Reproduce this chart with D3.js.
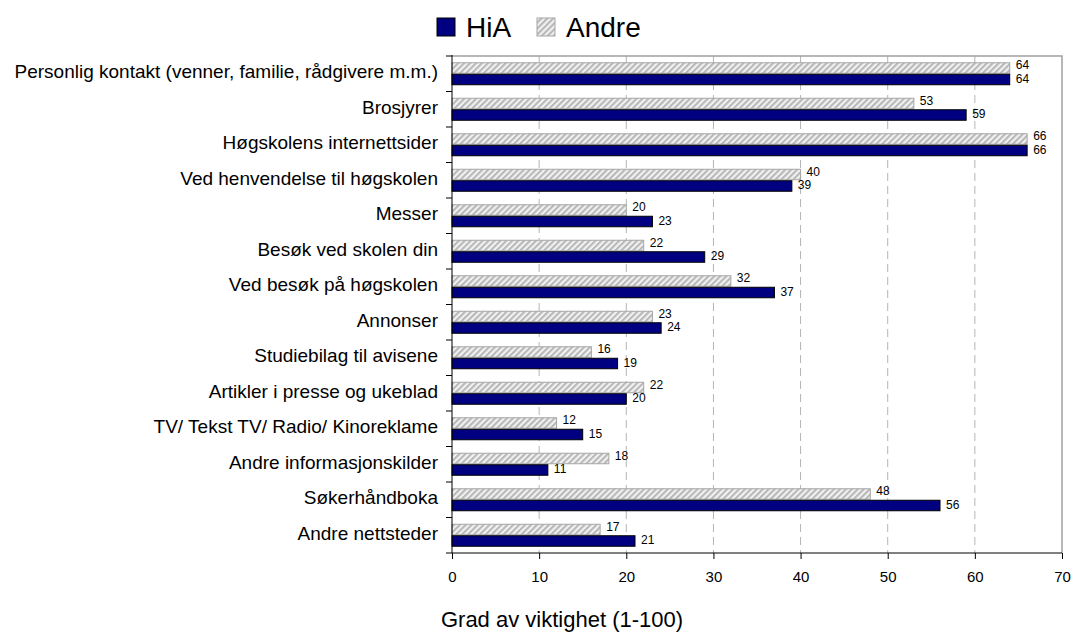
<!DOCTYPE html>
<html>
<head>
<meta charset="utf-8">
<script src="https://cdn.jsdelivr.net/npm/d3@7"></script>
<style>
  body { margin: 0; background: #fff; }
  text { font-family: "Liberation Sans", Arial, sans-serif; fill: #000; }
</style>
</head>
<body>
<div id="chart"></div>
<script>
// data
const categories = [
    'Personlig kontakt (venner, familie, rådgivere m.m.)',
    'Brosjyrer',
    'Høgskolens internettsider',
    'Ved henvendelse til høgskolen',
    'Messer',
    'Besøk ved skolen din',
    'Ved besøk på høgskolen',
    'Annonser',
    'Studiebilag til avisene',
    'Artikler i presse og ukeblad',
    'TV/ Tekst TV/ Radio/ Kinoreklame',
    'Andre informasjonskilder',
    'Søkerhåndboka',
    'Andre nettsteder'
];
const hiaValues   = [64, 59, 66, 39, 23, 29, 37, 24, 19, 20, 15, 11, 56, 21];
const andreValues = [64, 53, 66, 40, 20, 22, 32, 23, 16, 22, 12, 18, 48, 17];
const seriesNames = ['HiA', 'Andre'];
const xTicks = [0, 10, 20, 30, 40, 50, 60, 70];
const xTitle = 'Grad av viktighet (1-100)';

// layout
const W = 1076, H = 633;
const margin = {top: 56, right: 14, bottom: 80, left: 452};
const width = W - margin.left - margin.right;
const height = H - margin.top - margin.bottom;

const svgRoot = d3.select('#chart').append('svg')
    .attr('width', W)
    .attr('height', H);

// hatch pattern for "Andre"
const defs = svgRoot.append('defs');
const pat = defs.append('pattern')
    .attr('id', 'hatch')
    .attr('patternUnits', 'userSpaceOnUse')
    .attr('width', 4.2)
    .attr('height', 4.2)
    .attr('patternTransform', 'rotate(45)');
pat.append('rect').attr('width', 4.2).attr('height', 4.2).attr('fill', '#f2f2f2');
pat.append('rect').attr('width', 2.1).attr('height', 4.2).attr('fill', '#b8b8b8');

const svg = svgRoot.append('g')
    .attr('transform', 'translate(' + margin.left + ',' + margin.top + ')');

// scales
const xScale = d3.scaleLinear().domain([0, 70]).range([0, width]);
const yScale = d3.scaleBand().domain(categories).range([0, height]).padding(0);
const barH = 10.5;

// gridlines
svg.append('g')
    .selectAll('line')
    .data(xTicks.filter(d => d > 0 && d < 70))
    .join('line')
    .attr('x1', d => xScale(d)).attr('x2', d => xScale(d))
    .attr('y1', 0).attr('y2', height)
    .attr('stroke', '#b4b4b4')
    .attr('stroke-dasharray', '8,5');

// frame (top and right)
svg.append('path')
    .attr('d', 'M0,0H' + width + 'V' + height)
    .attr('fill', 'none')
    .attr('stroke', '#a0a0a0')
    .attr('stroke-width', 1.5);

// bars
const rows = categories.map((c, i) => ({cat: c, hia: hiaValues[i], andre: andreValues[i]}));
const center = d => yScale(d.cat) + yScale.bandwidth() / 2;

svg.append('g').selectAll('rect')
    .data(rows)
    .join('rect')
    .attr('x', 0)
    .attr('y', d => center(d) - barH - 0.5)
    .attr('width', d => xScale(d.andre))
    .attr('height', barH)
    .attr('fill', 'url(#hatch)')
    .attr('stroke', '#a6a6a6')
    .attr('stroke-width', 1);

svg.append('g').selectAll('rect')
    .data(rows)
    .join('rect')
    .attr('x', 0)
    .attr('y', d => center(d) + 0.5)
    .attr('width', d => xScale(d.hia))
    .attr('height', barH)
    .attr('fill', '#000080')
    .attr('stroke', '#000')
    .attr('stroke-width', 1);

// value labels
svg.append('g').selectAll('text')
    .data(rows)
    .join('text')
    .attr('x', d => xScale(d.andre) + 6)
    .attr('y', d => center(d) - barH / 2 - 3.5)
    .attr('dy', '0.35em')
    .attr('font-size', 12)
    .text(d => d.andre);

svg.append('g').selectAll('text')
    .data(rows)
    .join('text')
    .attr('x', d => xScale(d.hia) + 6)
    .attr('y', d => center(d) + barH / 2 - 0.5)
    .attr('dy', '0.35em')
    .attr('font-size', 12)
    .text(d => d.hia);

// x axis
const xAxis = d3.axisBottom(xScale).tickValues(xTicks).tickSize(6).tickPadding(12);
const xg = svg.append('g')
    .attr('transform', 'translate(0,' + height + ')')
    .call(xAxis);
xg.selectAll('text').attr('font-size', 15).attr('font-family', null);
xg.selectAll('line, path').attr('stroke', '#000');
xg.select('.domain').attr('d', 'M0,0H' + width);

// y axis: ticks at category boundaries
const yg = svg.append('g');
yg.append('line')
    .attr('x1', 0).attr('x2', 0).attr('y1', -1).attr('y2', height)
    .attr('stroke', '#000');
yg.selectAll('.tk')
    .data(d3.range(categories.length + 1))
    .join('line')
    .attr('class', 'tk')
    .attr('x1', -6).attr('x2', 0)
    .attr('y1', i => i * yScale.bandwidth())
    .attr('y2', i => i * yScale.bandwidth())
    .attr('stroke', '#000');
yg.selectAll('.lbl')
    .data(categories)
    .join('text')
    .attr('class', 'lbl')
    .attr('x', -14)
    .attr('y', d => yScale(d) + yScale.bandwidth() / 2 - 2)
    .attr('dy', '0.35em')
    .attr('text-anchor', 'end')
    .attr('font-size', 19)
    .text(d => d);

// x title
svgRoot.append('text')
    .attr('x', 562)
    .attr('y', 627)
    .attr('text-anchor', 'middle')
    .attr('font-size', 22)
    .text(xTitle);

// legend
const legend = svgRoot.append('g');
const legendItems = [
    {name: seriesNames[0], x: 437, fill: '#000080', stroke: '#000'},
    {name: seriesNames[1], x: 537, fill: 'url(#hatch)', stroke: '#a6a6a6'}
];
legend.selectAll('rect')
    .data(legendItems)
    .join('rect')
    .attr('x', d => d.x)
    .attr('y', 18)
    .attr('width', 18)
    .attr('height', 18)
    .attr('fill', d => d.fill)
    .attr('stroke', d => d.stroke);
legend.selectAll('text')
    .data(legendItems)
    .join('text')
    .attr('x', d => d.x + 29)
    .attr('y', 37)
    .attr('font-size', 28)
    .text(d => d.name);
</script>
</body>
</html>
